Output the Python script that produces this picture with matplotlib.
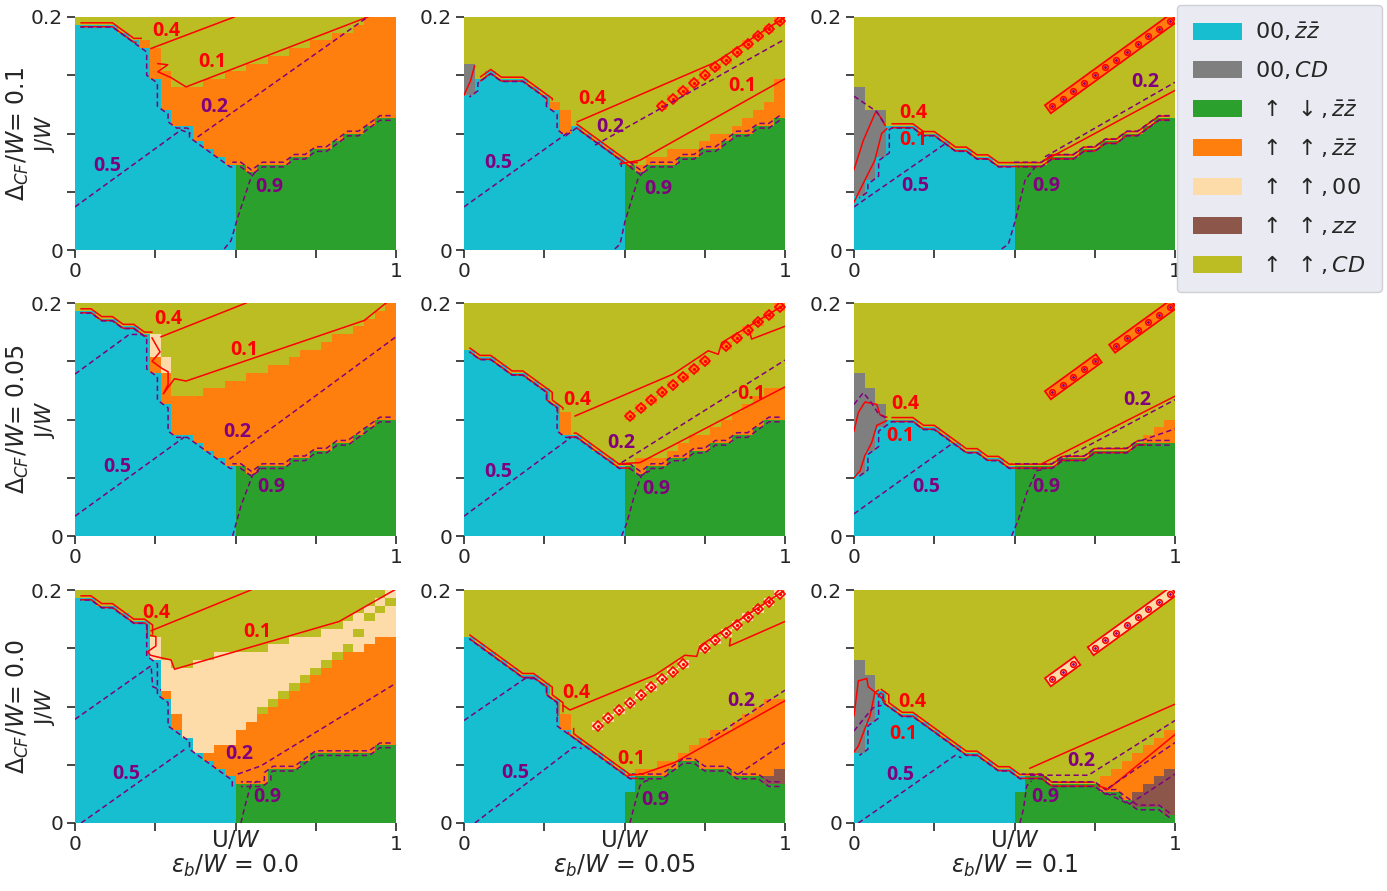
import numpy as np
import matplotlib.pyplot as plt
import matplotlib.patheffects as pe
from matplotlib.colors import ListedColormap, BoundaryNorm
from matplotlib.patches import Patch

plt.rcParams['lines.dashed_pattern'] = [3.5, 2.2]

CYAN, GREY, GREEN, ORANGE, PEACH, BROWN, OLIVE = range(7)
phase_colors = ['#17becf', '#7f7f7f', '#2ca02c', '#ff7f0e', '#fedcaa', '#8c564b', '#bcbd22']
phase_labels = [r'$00, \bar{z}\bar{z}$', r'$00, CD$', r'$\,\uparrow\ \downarrow, \bar{z}\bar{z}$',
                r'$\,\uparrow\ \uparrow, \bar{z}\bar{z}$', r'$\,\uparrow\ \uparrow, 00$',
                r'$\,\uparrow\ \uparrow, zz$', r'$\,\uparrow\ \uparrow, CD$']
RED = 'red'
PURPLE = '#800080'
NU, NJ = 30, 30

eps_values = ['0.0', '0.05', '0.1']
dcf_values = ['0.1', '0.05', '0.0']

# ---- panel data: tops of each phase layer (in grid rows) per U column ----
# row 1, Delta_CF/W = 0.1
cyan_a = [29, 29, 29, 29, 28, 27, 26, 22, 18, 16, 16, 14, 13, 12, 11]
green_a = [11, 10, 11, 11, 11, 12, 12, 13, 13, 14, 15, 15, 16, 17, 17]
orange_a = {6: 27, 7: 26, 8: 23, 9: 21, 10: 21, 11: 21, 12: 22, 13: 22, 14: 23, 15: 23, 16: 24,
            17: 24, 18: 25, 19: 25, 20: 26, 21: 26, 22: 27, 23: 27, 24: 28, 25: 28, 26: 29,
            27: 30, 28: 30, 29: 30}
lines_a = [('r', [(.237, .173), (.496, .2)]),
           ('r', [(.258, .160), (.289, .159), (.258, .153), (.299, .148), (.346, .140), (.912, .2)]),
           ('p', [(.382, .097), (.912, .2)]),
           ('p', [(0, .037), (.330, .103), (.36, .10)]),
           ('p', [(.465, .001), (.486, .008), (.507, .028), (.548, .062), (.564, .068)])]
labels_a = [('0.4', 'r', .283, .188), ('0.1', 'r', .429, .161), ('0.2', 'p', .434, .123),
            ('0.5', 'p', .102, .072), ('0.9', 'p', .605, .054)]

cyan_b = [20, 22, 23, 22, 22, 22, 21, 20, 18, 15, 16, 15, 14, 13, 12]
green_b = [11, 10, 11, 11, 11, 12, 12, 13, 13, 14, 15, 15, 16, 16, 17]
grey_b = {0: 24}
orange_b = {8: 19, 9: 18, 16: 11, 17: 12, 18: 12, 19: 13, 20: 13, 21: 13, 22: 14, 23: 15,
            24: 15, 25: 16, 26: 17, 27: 18, 28: 19, 29: 22}
stripe_b = [([18, 19, 20, 21, 22, 23, 24, 25, 26, 27, 28, 29],
             [18, 19, 20, 21, 22, 23, 24, 25, 26, 27, 28, 29], ORANGE, 'dots')]
lines_b = [('r', [(.353, .110), (.782, .161), (1.0, .2)]),
           ('r', [(.486, .074), (.548, .077), (1.0, .147)]),
           ('p', [(.408, .090), (1.0, .181)]),
           ('p', [(0, .037), (.335, .103)]),
           ('p', [(.470, .001), (.486, .005), (.502, .025), (.543, .062), (.559, .067)]),
           ('r', [(0, .133), (.02, .145), (.033, .158)])]
labels_b = [('0.4', 'r', .398, .130), ('0.2', 'p', .455, .106), ('0.1', 'r', .867, .141),
            ('0.5', 'p', .107, .075), ('0.9', 'p', .605, .052)]

cyan_c = [7, 9, 12, 16, 16, 16, 15, 15, 14, 13, 13, 12, 12, 11, 11]
green_c = [11, 11, 11, 12, 12, 12, 13, 13, 14, 14, 15, 15, 16, 17, 17]
grey_c = {0: 21, 1: 18, 2: 18}
stripe_c = [([18, 19, 20, 21, 22, 23, 24, 25, 26, 27, 28, 29],
             [18, 19, 20, 21, 22, 23, 24, 25, 26, 27, 28, 29], ORANGE, 'band')]
lines_c = [('r', [(0, .069), (.029, .094), (.065, .117), (.070, .119), (.08, .115), (.097, .107)]),
           ('r', [(0, .041), (.034, .060), (.065, .077), (.086, .100), (.102, .104)]),
           ('p', [(0, .132), (.07, .119), (.096, .108)]),
           ('p', [(0, .037), (.283, .091)]),
           ('p', [(.595, .080), (1.0, .144)]),
           ('r', [(.595, .077), (1.0, .137)]),
           ('p', [(.460, .001), (.481, .005), (.502, .025), (.533, .060), (.564, .071)])]
labels_c = [('0.4', 'r', .185, .118), ('0.1', 'r', .185, .094), ('0.5', 'p', .190, .055),
            ('0.9', 'p', .600, .055), ('0.2', 'p', .907, .144)]

# row 2, Delta_CF/W = 0.05
cyan_d = [29, 29, 28, 28, 27, 27, 26, 21, 17, 13, 13, 12, 11, 10, 9]
green_d = [9, 8, 9, 9, 9, 10, 10, 11, 11, 12, 12, 13, 14, 15, 15]
orange_d = {7: 23, 8: 21, 9: 18, 10: 18, 11: 18, 12: 19, 13: 19, 14: 20, 15: 20, 16: 21, 17: 21,
            18: 22, 19: 22, 20: 23, 21: 24, 22: 24, 23: 25, 24: 26, 25: 26, 26: 27, 27: 28,
            28: 29, 29: 30}
peach_d = {7: 26, 8: 23}
lines_d = [('r', [(.268, .171), (.533, .2)]),
           ('r', [(.24, .17), (.265, .158), (.24, .15), (.27, .144), (.29, .141), (.29, .13),
                  (.275, .122), (.31, .135), (.346, .133), (.901, .185), (.969, .2)]),
           ('p', [(.481, .066), (1.0, .171)]),
           ('p', [(0, .139), (.169, .173), (.21, .173)]),
           ('p', [(0, .017), (.341, .085)]),
           ('p', [(.491, 0), (.517, .026), (.553, .052), (.579, .059)])]
labels_d = [('0.4', 'r', .289, .186), ('0.1', 'r', .528, .160), ('0.2', 'p', .507, .089),
            ('0.5', 'p', .133, .059), ('0.9', 'p', .611, .042)]

cyan_e = [24, 23, 23, 22, 21, 21, 20, 19, 17, 13, 13, 12, 11, 10, 9]
green_e = [9, 8, 9, 9, 10, 10, 11, 11, 12, 12, 13, 13, 14, 15, 15]
orange_e = {9: 16, 16: 10, 17: 10, 18: 10, 19: 11, 20: 12, 21: 13, 22: 13, 23: 14, 24: 15,
            25: 16, 26: 17, 27: 18, 28: 19, 29: 19}
stripe_e = [([15, 16, 17, 18, 19, 20, 21, 22, 24, 25, 26, 27, 28, 29],
             [15, 16, 17, 18, 19, 20, 21, 22, 24, 25, 26, 27, 28, 29], ORANGE, 'dots')]
lines_e = [('r', [(.346, .103), (.652, .139), (.761, .159), (.792, .156), (.803, .166), (.995, .198)]),
           ('r', [(1.0, .180), (.896, .169), (.89, .175)]),
           ('r', [(.481, .062), (.548, .063), (1.0, .128)]),
           ('p', [(.491, .063), (1.0, .151)]),
           ('p', [(0, .017), (.335, .085)]),
           ('p', [(.491, 0), (.507, .011), (.533, .037), (.553, .052), (.579, .056)])]
labels_e = [('0.4', 'r', .354, .117), ('0.2', 'p', .491, .080), ('0.1', 'r', .896, .122),
            ('0.5', 'p', .107, .055), ('0.9', 'p', .600, .040)]

cyan_f = [8, 11, 14, 15, 15, 15, 14, 14, 13, 12, 11, 11, 10, 10, 9]
green_f = [9, 9, 9, 9, 10, 10, 10, 11, 11, 11, 11, 12, 12, 12, 12]
grey_f = {0: 21, 1: 19, 2: 17}
orange_f = {27: 13, 28: 14, 29: 15}
stripe_f = [([18, 19, 20, 21, 22], [18, 19, 20, 21, 22], ORANGE, 'band'),
            ([24, 25, 26, 27, 28, 29], [24, 25, 26, 27, 28, 29], ORANGE, 'band')]
lines_f = [('r', [(0, .090), (.0135, .106), (.034, .115), (.071, .113), (.081, .104), (.102, .102)]),
           ('r', [(0, .050), (.019, .056), (.034, .069), (.055, .080), (.071, .095), (.102, .099)]),
           ('p', [(0, .113), (.029, .123), (.050, .116), (.076, .105), (.102, .101)]),
           ('r', [(.585, .062), (1.0, .120)]),
           ('p', [(.637, .064), (1.0, .117)]),
           ('p', [(.896, .082), (1.0, .092)]),
           ('p', [(0, .019), (.304, .079)]),
           ('p', [(.491, 0), (.512, .014), (.538, .037), (.569, .056), (.585, .057)])]
labels_f = [('0.4', 'r', .159, .113), ('0.1', 'r', .143, .086), ('0.5', 'p', .226, .042),
            ('0.9', 'p', .600, .042), ('0.2', 'p', .881, .117)]

# row 3, Delta_CF/W = 0.0
cyan_g = [29, 29, 28, 28, 27, 26, 26, 21, 16, 12, 11, 9, 8, 7, 6]
green_g = [5, 5, 5, 7, 7, 7, 8, 9, 9, 9, 9, 9, 9, 10, 10]
orange_g = {8: 17, 9: 14, 12: 9, 13: 10, 14: 10, 15: 12, 16: 13, 17: 14, 18: 15, 19: 16, 20: 17,
            21: 18, 22: 19, 23: 20, 24: 21, 25: 22, 26: 22, 27: 23, 28: 24, 29: 24}
peach_g = {7: 24, 8: 21, 9: 20, 10: 20, 11: 21, 12: 21, 13: 22, 14: 22, 15: 22, 16: 22, 17: 22,
           18: 23, 19: 23, 20: 24, 21: 24, 22: 24, 23: 25, 24: 25, 25: 26, 26: 27, 27: 28,
           28: 29, 29: 30}
extra_g = [(17, 14, OLIVE), (18, 15, OLIVE), (19, 16, OLIVE), (20, 17, OLIVE), (21, 18, OLIVE),
           (22, 19, OLIVE), (23, 20, OLIVE), (24, 21, OLIVE), (25, 22, OLIVE), (26, 24, OLIVE),
           (27, 26, OLIVE), (28, 27, OLIVE), (29, 28, OLIVE)]
lines_g = [('r', [(.237, .165), (.548, .2)]),
           ('r', [(.236, .161), (.252, .160), (.252, .152), (.226, .147), (.235, .144), (.265, .142),
                  (.299, .140), (.31, .132), (.823, .173), (.995, .2)]),
           ('p', [(0, .089), (.237, .135), (.242, .117), (.268, .114)]),
           ('p', [(.019, 0), (.341, .063)]),
           ('p', [(.507, .042), (.579, .049), (1.0, .120)]),
           ('p', [(.517, 0), (.528, .013), (.548, .033), (.569, .036)])]
labels_g = [('0.4', 'r', .252, .180), ('0.1', 'r', .567, .164), ('0.2', 'p', .512, .059),
            ('0.5', 'p', .159, .042), ('0.9', 'p', .600, .022)]

cyan_h = [24, 23, 22, 21, 20, 19, 19, 18, 16, 12, 11, 10, 9, 8, 7]
green_h = [4, 6, 6, 6, 7, 8, 8, 7, 7, 7, 6, 6, 6, 5, 5]
brown_h = {28: 6, 29: 7}
orange_h = {9: 14, 16: 7, 17: 7, 18: 8, 19: 8, 20: 9, 21: 10, 22: 11, 23: 12, 24: 12, 25: 13,
            26: 14, 27: 15, 28: 16, 29: 16}
extra_h = [(15, 4, CYAN), (15, 5, CYAN)]
stripe_h = [([12, 13, 14, 15, 16, 17, 18, 19, 20, 22, 23, 24, 25, 26, 27, 28, 29],
             [12, 13, 14, 15, 16, 17, 18, 19, 20, 22, 23, 24, 25, 26, 27, 28, 29], PEACH, 'dots')]
lines_h = [('r', [(.309, .101), (.330, .097), (.595, .127), (.688, .144), (.725, .143), (.735, .152),
                  (.995, .199)]),
           ('r', [(1.0, .173), (.827, .152), (.83, .158)]),
           ('r', [(.512, .041), (.554, .042), (.657, .052), (1.0, .105)]),
           ('p', [(.855, .042), (1.0, .069)]),
           ('p', [(.761, .071), (1.0, .114)]),
           ('p', [(0, .088), (.190, .124), (.226, .124)]),
           ('p', [(.034, 0), (.341, .065), (.367, .064)]),
           ('p', [(.517, 0), (.528, .012), (.548, .032), (.564, .036), (.585, .037)])]
labels_h = [('0.4', 'r', .351, .112), ('0.1', 'r', .522, .055), ('0.2', 'p', .865, .105),
            ('0.5', 'p', .159, .043), ('0.9', 'p', .595, .020)]

cyan_i = [9, 13, 17, 15, 14, 14, 13, 12, 11, 10, 9, 9, 8, 7, 7]
green_i = [4, 6, 6, 5, 5, 5, 5, 5, 4, 4, 3, 2, 2, 2, 1]
grey_i = {0: 21, 1: 19}
brown_i = {26: 4, 27: 5, 28: 6, 29: 7}
orange_i = {23: 6, 24: 7, 25: 8, 26: 9, 27: 10, 28: 11, 29: 12}
extra_i = [(15, 4, CYAN), (15, 5, CYAN)]
stripe_i = [([18, 19, 20], [18, 19, 20], PEACH, 'band'),
            ([22, 23, 24, 25, 26, 27, 28, 29], [22, 23, 24, 25, 26, 27, 28, 29], PEACH, 'band')]
lines_i = [('r', [(0, .092), (.0135, .122), (.040, .124), (.044, .117), (.076, .110), (.097, .104)]),
           ('r', [(0, .061), (.0135, .066), (.034, .081), (.050, .092), (.065, .112), (.076, .114)]),
           ('p', [(0, .079), (.029, .089), (.06, .099), (.086, .101)]),
           ('r', [(.548, .047), (1.0, .102)]),
           ('p', [(.548, .041), (.730, .041), (1.0, .088)]),
           ('p', [(.761, .029), (.857, .016), (1.0, .042)]),
           ('r', [(.761, .032), (.792, .029), (1.0, .076)]),
           ('p', [(.792, .030), (1.0, .069)]),
           ('p', [(.0135, 0), (.315, .058), (.335, .056)]),
           ('p', [(.517, 0), (.528, .012), (.538, .032), (.553, .036)])]
labels_i = [('0.4', 'r', .180, .104), ('0.1', 'r', .154, .076), ('0.5', 'p', .143, .041),
            ('0.2', 'p', .709, .053), ('0.9', 'p', .595, .022)]

panels = [
    [dict(cyan=cyan_a, green=green_a, orange=orange_a, lines=lines_a, labels=labels_a),
     dict(cyan=cyan_b, green=green_b, grey=grey_b, orange=orange_b, stripes=stripe_b,
          lines=lines_b, labels=labels_b),
     dict(cyan=cyan_c, green=green_c, grey=grey_c, stripes=stripe_c, lines=lines_c, labels=labels_c)],
    [dict(cyan=cyan_d, green=green_d, orange=orange_d, peach=peach_d, lines=lines_d, labels=labels_d),
     dict(cyan=cyan_e, green=green_e, orange=orange_e, stripes=stripe_e, lines=lines_e, labels=labels_e),
     dict(cyan=cyan_f, green=green_f, grey=grey_f, orange=orange_f, stripes=stripe_f,
          lines=lines_f, labels=labels_f)],
    [dict(cyan=cyan_g, green=green_g, orange=orange_g, peach=peach_g, extra=extra_g,
          lines=lines_g, labels=labels_g),
     dict(cyan=cyan_h, green=green_h, brown=brown_h, orange=orange_h, extra=extra_h,
          stripes=stripe_h, lines=lines_h, labels=labels_h),
     dict(cyan=cyan_i, green=green_i, grey=grey_i, brown=brown_i, orange=orange_i, extra=extra_i,
          stripes=stripe_i, lines=lines_i, labels=labels_i)],
]


def build_grid(p):
    grid = np.full((NJ, NU), OLIVE)
    base = list(p['cyan']) + list(p['green'])
    for c in range(NU):
        lo = 0
        layers = [(CYAN if c < 15 else GREEN, base[c]),
                  (BROWN, p.get('brown', {}).get(c)),
                  (GREY, p.get('grey', {}).get(c)),
                  (ORANGE, p.get('orange', {}).get(c)),
                  (PEACH, p.get('peach', {}).get(c))]
        for ph, top in layers:
            if top is None or top <= lo:
                continue
            grid[lo:top, c] = ph
            lo = top
    for c, r, ph in p.get('extra', []):
        grid[r, c] = ph
    for cols, rows, ph, style in p.get('stripes', []):
        for c, r in zip(cols, rows):
            grid[r, c] = ph
    return grid


cmap = ListedColormap(phase_colors)
norm = BoundaryNorm(np.arange(-0.5, 7.5, 1), cmap.N)
u_edges = np.linspace(0, 1, NU + 1)
j_edges = np.linspace(0, 0.2, NJ + 1)
uc = (u_edges[:-1] + u_edges[1:]) / 2
jc = (j_edges[:-1] + j_edges[1:]) / 2

fig = plt.figure(figsize=(13.87, 8.91), dpi=100)
W, H = 1387, 891
col_left = [75, 464, 854]
row_top = [17, 303, 590]
pw, ph_ = 321, 233
lab_font = dict(family='Open Sans', weight='bold', fontsize=14)
TXT = '#262626'

for ri in range(3):
    for ci in range(3):
        p = panels[ri][ci]
        ax = fig.add_axes([col_left[ci] / W, 1 - (row_top[ri] + ph_) / H, pw / W, ph_ / H])
        grid = build_grid(p)
        ax.pcolormesh(u_edges, j_edges, grid, cmap=cmap, norm=norm, shading='flat')

        is_base = np.isin(grid, [CYAN, GREEN])
        red_f = np.where(is_base, 1.0, np.where(grid == OLIVE, 0.0, np.nan))
        cy_f = np.where(grid == CYAN, 1.0, np.where(grid == GREEN, np.nan, 0.0))
        gr_f = np.where(grid == GREEN, 1.0, np.where(grid == CYAN, np.nan, 0.0))
        ax.contour(uc, jc, np.ma.masked_invalid(red_f), levels=[0.25, 0.75],
                   colors=RED, linewidths=1.1)
        ax.contour(uc, jc, np.ma.masked_invalid(cy_f), levels=[0.8],
                   colors=PURPLE, linewidths=1.1, linestyles='dashed')
        ax.contour(uc, jc, np.ma.masked_invalid(gr_f), levels=[0.2, 0.8],
                   colors=PURPLE, linewidths=1.1, linestyles='dashed')

        for cols, rows, sph, style in p.get('stripes', []):
            xs = uc[cols]
            ys = jc[rows]
            if style == 'band':
                ax.plot([xs[0], xs[-1]], [ys[0], ys[-1]], color=phase_colors[sph], lw=6,
                        solid_capstyle='projecting',
                        path_effects=[pe.Stroke(linewidth=8.5, foreground=RED), pe.Normal()])
                ax.plot(xs, ys, 'o', ms=4, mfc='none', mec=RED, mew=1.2)
                ax.plot(xs, ys, '.', ms=2, color=PURPLE)
            else:
                ax.plot(xs, ys, 'D', ms=5.5, mfc='none', mec=RED, mew=1.2)
                ax.plot(xs, ys, '.', ms=2.5, color=RED)

        for kind, pts in p['lines']:
            xy = np.array(pts)
            if kind == 'r':
                ax.plot(xy[:, 0], xy[:, 1], color=RED, lw=1.1)
            else:
                ax.plot(xy[:, 0], xy[:, 1], color=PURPLE, lw=1.1, ls='--')

        for txt, kind, x, y in p['labels']:
            ax.text(x, y, txt, color=RED if kind == 'r' else PURPLE, ha='center', va='center',
                    **lab_font)

        ax.set_xlim(0, 1)
        ax.set_ylim(0, 0.2)
        for s in ax.spines.values():
            s.set_visible(False)
        ax.set_xticks([0, 0.25, 0.5, 0.75, 1])
        ax.set_xticklabels(['0', '', '', '', '1'])
        ax.set_yticks([0, 0.05, 0.1, 0.15, 0.2])
        ax.set_yticklabels(['0', '', '', '', '0.2'])
        ax.tick_params(direction='out', length=6, width=1.2, colors=TXT, labelsize=14.5, pad=2.5)
        if ci == 0:
            ax.text(-0.055, 0.5, 'J/$W$', transform=ax.transAxes, rotation=90, ha='right',
                    va='center', fontsize=15.5, color=TXT)
            ax.set_ylabel(r'$\Delta_{CF}/W$= ' + dcf_values[ri], fontsize=17, color=TXT)
            ax.yaxis.set_label_coords(-0.138, 0.5)
        if ri == 2:
            ax.text(0.5, -0.025, 'U/$W$', transform=ax.transAxes, ha='center', va='top',
                    fontsize=16.5, color=TXT)
            ax.set_xlabel(r'$\varepsilon_b/W$ = ' + eps_values[ci], fontsize=17, color=TXT)
            ax.xaxis.set_label_coords(0.5, -0.128)

handles = [Patch(facecolor=c, edgecolor='none', label=l) for c, l in zip(phase_colors, phase_labels)]
fig.legend(handles=handles, loc='upper left', bbox_to_anchor=(1177 / W, 1 - 5 / H), fontsize=16,
           frameon=True, facecolor='#EAEAF2', edgecolor='#cfcfd6', framealpha=1, fancybox=True,
           handlelength=2.2, handleheight=0.8, labelspacing=0.72, borderpad=0.72,
           handletextpad=0.6, borderaxespad=0, labelcolor=TXT)

fig.savefig('out.png', dpi=100)
